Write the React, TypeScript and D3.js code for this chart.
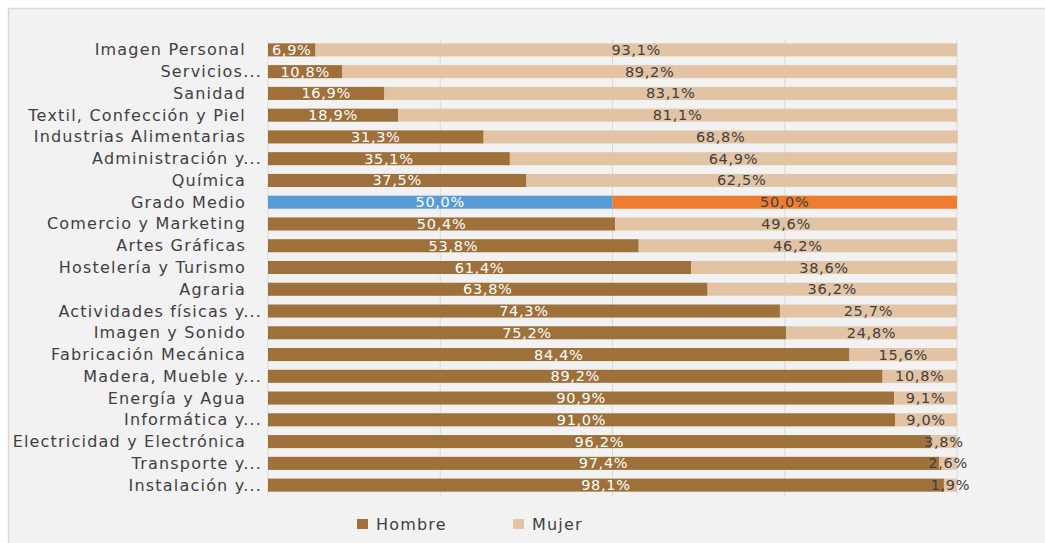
import React from "react";
import * as d3 from "d3";

const categories = [
  "Imagen Personal",
  "Servicios...",
  "Sanidad",
  "Textil, Confección y Piel",
  "Industrias Alimentarias",
  "Administración y...",
  "Química",
  "Grado Medio",
  "Comercio y Marketing",
  "Artes Gráficas",
  "Hostelería y Turismo",
  "Agraria",
  "Actividades físicas y...",
  "Imagen y Sonido",
  "Fabricación Mecánica",
  "Madera, Mueble y...",
  "Energía y Agua",
  "Informática y...",
  "Electricidad y Electrónica",
  "Transporte y...",
  "Instalación y...",
];

const hombre = [6.9, 10.8, 16.9, 18.9, 31.3, 35.1, 37.5, 50.0, 50.4, 53.8, 61.4, 63.8, 74.3, 75.2, 84.4, 89.2, 90.9, 91.0, 96.2, 97.4, 98.1];
const mujer = [93.1, 89.2, 83.1, 81.1, 68.8, 64.9, 62.5, 50.0, 49.6, 46.2, 38.6, 36.2, 25.7, 24.8, 15.6, 10.8, 9.1, 9.0, 3.8, 2.6, 1.9];

const ticks = [0, 25, 50, 75, 100];
const seriesNames = ["Hombre", "Mujer"];
const highlight = "Grado Medio";

const C_H = "#9e703a";
const C_M = "#e2c4a5";
const C_HB = "#5b9bd5";
const C_MB = "#ed7d31";
const FONT = "DejaVu Sans, sans-serif";

export default function App() {
  const W = 1045, H = 543;
  const x = d3.scaleLinear().domain([0, 100]).range([268, 957]);
  const y = d3.scaleBand<string>().domain(categories).range([39, 496]).paddingInner(0.4).paddingOuter(0.2);
  const fmt = (v: number) => v.toFixed(1).replace(".", ",") + "%";

  return (
    <svg width={W} height={H} style={{ position: "absolute", left: 0, top: 0, display: "block" }}>
      <rect x={0} y={0} width={W} height={H} fill="#ffffff" />
      <rect x={8.5} y={8.5} width={W} height={H} fill="#f2f2f2" stroke="#d9d9d9" strokeWidth={1.5} />
      {ticks.map((t) => (
        <line key={t} x1={x(t)} x2={x(t)} y1={39} y2={497} stroke="#d9d9d9" strokeWidth={1} />
      ))}
      {categories.map((c, i) => {
        const yy = y(c)!;
        const bw = y.bandwidth();
        const hi = c === highlight;
        const cy = yy + bw / 2;
        const xh0 = x(0), xh1 = x(hombre[i]);
        const xm1 = x(hombre[i] + mujer[i]);
        const trunc = c.endsWith("...");
        return (
          <g key={c}>
            <rect x={xh0} y={yy} width={xh1 - xh0} height={bw} fill={hi ? C_HB : C_H} />
            <rect x={xh1} y={yy} width={xm1 - xh1} height={bw} fill={hi ? C_MB : C_M} />
            <text x={(xh0 + xh1) / 2} y={cy + 5} textAnchor="middle" fill="#ffffff" fontFamily={FONT} fontSize={14.5} letterSpacing={0.7}>
              {fmt(hombre[i])}
            </text>
            <text x={(xh1 + xm1) / 2} y={cy + 5} textAnchor="middle" fill="#404040" fontFamily={FONT} fontSize={14.5} letterSpacing={0.7}>
              {fmt(mujer[i])}
            </text>
            <text x={trunc ? 262 : 246} y={cy + 5.5} textAnchor="end" fill="#404040" fontFamily={FONT} fontSize={16} letterSpacing={1.2}>
              {c}
            </text>
          </g>
        );
      })}
      {seriesNames.map((s, i) => {
        const lx = i === 0 ? 357 : 513;
        return (
          <g key={s}>
            <rect x={lx} y={519} width={11} height={10} fill={i === 0 ? C_H : C_M} />
            <text x={lx + 19} y={530} fill="#404040" fontFamily={FONT} fontSize={16} letterSpacing={1.2}>
              {s}
            </text>
          </g>
        );
      })}
    </svg>
  );
}
